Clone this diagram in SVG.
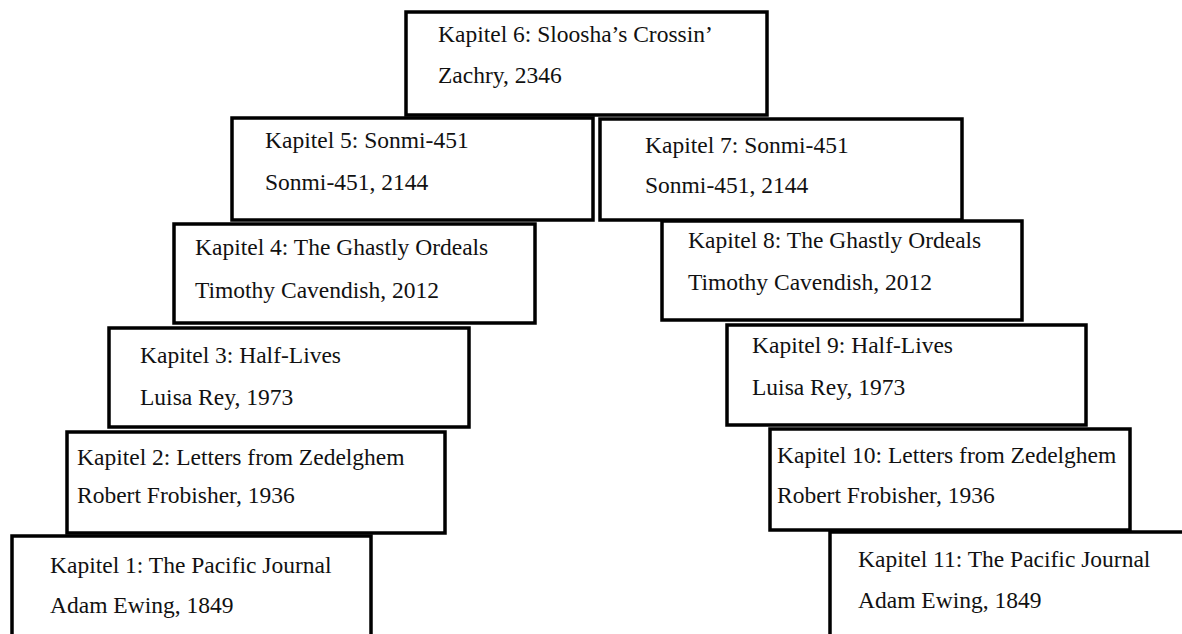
<svg xmlns="http://www.w3.org/2000/svg" width="1182" height="634" viewBox="0 0 1182 634">
<style>
.box{fill:#fff;stroke:#000;stroke-width:3.5}
.t{font-family:"Liberation Serif","Times New Roman",serif;font-size:23.5px;fill:#111}
</style>
<rect width="1182" height="634" fill="#fff"/>
<g id="connectors"></g>
<g id="k6"><rect class="box" x="406" y="12" width="361" height="103"/><text class="t" x="438" y="42">Kapitel 6: Sloosha’s Crossin’</text><text class="t" x="438" y="83">Zachry, 2346</text></g>
<g id="k5"><rect class="box" x="232" y="118" width="361" height="102"/><text class="t" x="265" y="148">Kapitel 5: Sonmi-451</text><text class="t" x="265" y="190">Sonmi-451, 2144</text></g>
<g id="k7"><rect class="box" x="600" y="119" width="362" height="101"/><text class="t" x="645" y="153">Kapitel 7: Sonmi-451</text><text class="t" x="645" y="193">Sonmi-451, 2144</text></g>
<g id="k4"><rect class="box" x="174" y="224" width="361" height="99"/><text class="t" x="195" y="255">Kapitel 4: The Ghastly Ordeals</text><text class="t" x="195" y="298">Timothy Cavendish, 2012</text></g>
<g id="k8"><rect class="box" x="662" y="221" width="360" height="99"/><text class="t" x="688" y="248">Kapitel 8: The Ghastly Ordeals</text><text class="t" x="688" y="290">Timothy Cavendish, 2012</text></g>
<g id="k3"><rect class="box" x="109" y="328" width="360" height="99"/><text class="t" x="140" y="363">Kapitel 3: Half-Lives</text><text class="t" x="140" y="405">Luisa Rey, 1973</text></g>
<g id="k9"><rect class="box" x="727" y="325" width="359" height="100"/><text class="t" x="752" y="353">Kapitel 9: Half-Lives</text><text class="t" x="752" y="395">Luisa Rey, 1973</text></g>
<g id="k2"><rect class="box" x="67" y="432" width="378" height="101"/><text class="t" x="77" y="465">Kapitel 2: Letters from Zedelghem</text><text class="t" x="77" y="503">Robert Frobisher, 1936</text></g>
<g id="k10"><rect class="box" x="770" y="429" width="360" height="101"/><text class="t" x="777" y="463">Kapitel 10: Letters from Zedelghem</text><text class="t" x="777" y="503">Robert Frobisher, 1936</text></g>
<g id="k1"><rect class="box" x="12" y="536" width="359" height="120"/><text class="t" x="50" y="573">Kapitel 1: The Pacific Journal</text><text class="t" x="50" y="613">Adam Ewing, 1849</text></g>
<g id="k11"><rect class="box" x="830" y="532" width="380" height="120"/><text class="t" x="858" y="567">Kapitel 11: The Pacific Journal</text><text class="t" x="858" y="608">Adam Ewing, 1849</text></g>
</svg>
